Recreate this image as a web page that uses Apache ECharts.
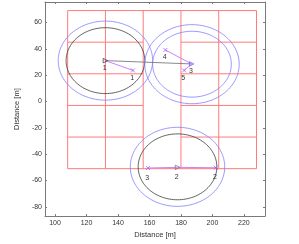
<!DOCTYPE html>
<html><head><meta charset="utf-8">
<script src="https://cdn.jsdelivr.net/npm/echarts@6/dist/echarts.min.js"></script>
<style>html,body{margin:0;padding:0;background:#fff}#c{width:299px;height:244px}</style>
</head><body><div id="c"></div>
<script>
// ---- data ----
const xTicks = [100, 120, 140, 160, 180, 200, 220];
const yTicks = [-80, -60, -40, -20, 0, 20, 40, 60];
const xRange = [93.6, 233.4];
const yRange = [-87, 75.5];

// red cell grid
const gridVx = [108, 132, 156, 180, 204, 228];
const gridYTop = 69, gridYBottom = -51;
const gridFullHy = [69, -51];
const gridPartHy = [45, 21, -3, -27];
const gridBlocks = [[108, 156], [180, 228]];

// circles
const circleCx = [132, 132, 187, 187, 177.8, 177.8];
const circleCy = [31, 31, 28.3, 28.3, -49.6, -49.6];
const circleR = [25, 30, 25, 30, 25, 30];
const circleKind = ['black', 'blue', 'blue', 'blue', 'black', 'blue'];

// triangle anchors
const triX = [132, 186.8, 177.8];
const triY = [31, 28.5, -50];
const triText = ['1', '3', '2'];
const triKind = ['black', 'blue', 'grey'];

// cross markers
const crossX = [149.5, 170.1, 182.0, 159.0, 202.1];
const crossY = [23.6, 39.1, 23.6, -50.5, -50.3];
const crossText = ['1', '4', '5', '3', '2'];

// links: [fromType, fromIdx, toType, toIdx]
const magentaLinks = [['t', 0, 'c', 0], ['c', 1, 't', 1], ['t', 1, 'c', 2], ['c', 3, 't', 2], ['t', 2, 'c', 4]];
const greyLinks = [['t', 0, 't', 1]];

// ---- build ----
const FONT = 'Liberation Sans';
const pt = (t, i) => t === 't' ? [triX[i], triY[i]] : [crossX[i], crossY[i]];

const redSegs = [];
gridVx.forEach(x => redSegs.push([x, gridYBottom, x, gridYTop]));
gridFullHy.forEach(y => redSegs.push([gridVx[0], y, gridVx[gridVx.length - 1], y]));
gridPartHy.forEach(y => gridBlocks.forEach(b => redSegs.push([b[0], y, b[1], y])));

const magSegs = magentaLinks.map(l => pt(l[0], l[1]).concat(pt(l[2], l[3])));
const greySegs = greyLinks.map(l => pt(l[0], l[1]).concat(pt(l[2], l[3])));

function segSeries(segs, color, width) {
  return {
    type: 'custom', coordinateSystem: 'cartesian2d', silent: true,
    data: segs,
    renderItem: (params, api) => {
      const a = api.coord([api.value(0), api.value(1)]);
      const b = api.coord([api.value(2), api.value(3)]);
      return { type: 'line', shape: { x1: a[0], y1: a[1], x2: b[0], y2: b[1] },
        style: { stroke: color, lineWidth: width } };
    }
  };
}

const circleColors = { black: '#3a3a3a', blue: '#8080ff' };
const circleSeries = {
  type: 'custom', coordinateSystem: 'cartesian2d', silent: true,
  data: circleCx.map((x, i) => [x, circleCy[i], circleR[i], i]),
  renderItem: (params, api) => {
    const cx = api.value(0), cy = api.value(1), r = api.value(2), i = api.value(3);
    const pts = [];
    for (let k = 0; k <= 120; k++) {
      const t = k / 120 * Math.PI * 2;
      pts.push(api.coord([cx + r * Math.cos(t), cy + r * Math.sin(t)]));
    }
    return { type: 'polyline', shape: { points: pts },
      style: { stroke: circleColors[circleKind[i]], lineWidth: 0.8, fill: null } };
  }
};

const triColors = { black: '#333333', blue: '#5a5aff', grey: '#70708a' };
const triSeries = {
  type: 'scatter', silent: true, symbol: 'triangle', symbolRotate: -90, symbolSize: 4.5,
  data: triX.map((x, i) => ({ value: [x, triY[i]],
    itemStyle: { color: 'rgba(0,0,0,0)', borderColor: triColors[triKind[i]], borderWidth: 0.9 } })),
  z: 5
};
const crossSeries = {
  type: 'scatter', silent: true, symbol: 'path://M0,0L10,10M10,0L0,10', symbolSize: 4,
  data: crossX.map((x, i) => [x, crossY[i]]),
  itemStyle: { color: 'rgba(0,0,0,0)', borderColor: '#a050ff', borderWidth: 0.9 },
  z: 5
};

const labelData = triX.map((x, i) => [x, triY[i], triText[i]])
  .concat(crossX.map((x, i) => [x, crossY[i], crossText[i]]));
const labelSeries = {
  type: 'custom', coordinateSystem: 'cartesian2d', silent: true,
  data: labelData,
  renderItem: (params, api) => {
    const d = labelData[params.dataIndex];
    const p = api.coord([d[0], d[1]]);
    const dy = d[1] > 0 ? 7.5 : 9.8;
    return { type: 'text', x: p[0] - 0.8, y: p[1] + dy, z2: 10,
      style: { text: d[2], fontSize: 7, fontFamily: FONT, fill: '#333',
        align: 'center', verticalAlign: 'middle' } };
  }
};

const axisCommon = {
  type: 'value', scale: true,
  axisLine: { show: true, onZero: false, lineStyle: { color: '#7a7a7a', width: 1 } },
  splitLine: { show: false }
};

const option = {
  animation: false,
  backgroundColor: '#fff',
  grid: { left: 45, right: 34, top: 2, bottom: 21, containLabel: false },
  xAxis: [
    Object.assign({}, axisCommon, {
      min: xRange[0], max: xRange[1], position: 'bottom',
      axisTick: { show: true, inside: true, length: 2, customValues: xTicks, lineStyle: { color: '#7a7a7a' } },
      axisLabel: { customValues: xTicks, fontSize: 7, fontFamily: FONT, color: '#333', margin: 3 },
      name: 'Distance [m]', nameLocation: 'middle', nameGap: 10,
      nameTextStyle: { fontSize: 7.5, fontFamily: FONT, color: '#333' }
    }),
    Object.assign({}, axisCommon, {
      min: xRange[0], max: xRange[1], position: 'top',
      axisTick: { show: true, inside: true, length: 2, customValues: xTicks, lineStyle: { color: '#7a7a7a' } },
      axisLabel: { show: false }
    })
  ],
  yAxis: [
    Object.assign({}, axisCommon, {
      min: yRange[0], max: yRange[1], position: 'left',
      axisTick: { show: true, inside: true, length: 2, customValues: yTicks, lineStyle: { color: '#7a7a7a' } },
      axisLabel: { customValues: yTicks, fontSize: 7, fontFamily: FONT, color: '#333', margin: 3 },
      name: 'Distance [m]', nameLocation: 'middle', nameGap: 12, nameRotate: 90,
      nameTextStyle: { fontSize: 7.5, fontFamily: FONT, color: '#333' }
    }),
    Object.assign({}, axisCommon, {
      min: yRange[0], max: yRange[1], position: 'right',
      axisTick: { show: true, inside: true, length: 2, customValues: yTicks, lineStyle: { color: '#7a7a7a' } },
      axisLabel: { show: false }
    })
  ],
  series: [
    segSeries(redSegs, '#ff7b7b', 1),
    circleSeries,
    segSeries(greySegs, '#7a7a7a', 0.9),
    segSeries(magSegs, '#d080ff', 1),
    triSeries,
    crossSeries,
    labelSeries
  ]
};

const chart = echarts.init(document.getElementById('c'), null, { renderer: 'canvas' });
chart.setOption(option);
</script></body></html>
